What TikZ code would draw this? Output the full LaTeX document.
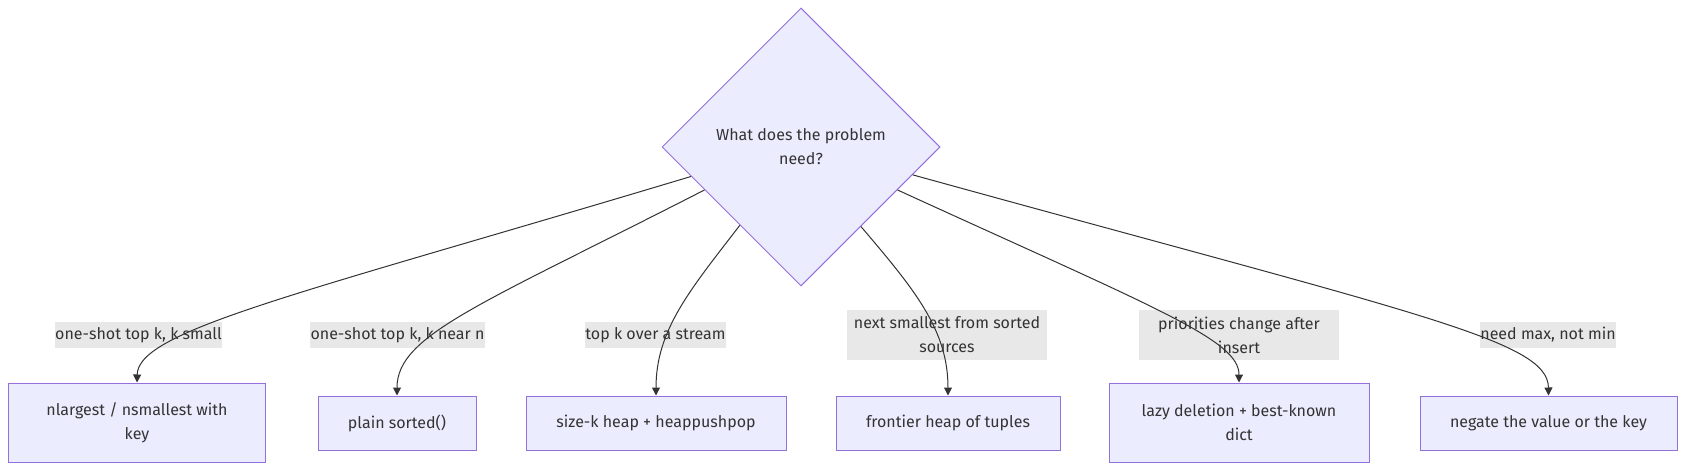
\documentclass[tikz,border=0pt]{standalone}
\usepackage{fontspec}
\setmainfont{Fira Sans}
\usetikzlibrary{shapes.geometric,arrows.meta}
\definecolor{nfill}{HTML}{ECECFF}
\definecolor{nline}{HTML}{9370DB}
\definecolor{lfill}{HTML}{E8E8E8}
\definecolor{tcol}{HTML}{333333}
\begin{document}
\begin{tikzpicture}[x=1pt,y=-1pt,
  every node/.style={font=\fontsize{16}{24}\selectfont, text=tcol},
  decision/.style={diamond, aspect=1, draw=nline, fill=nfill, line width=1pt, minimum width=278pt, minimum height=278pt, inner sep=0pt, align=center},
  box/.style={rectangle, draw=nline, fill=nfill, line width=1pt, align=center, inner sep=0pt},
  elabel/.style={fill=lfill, align=center, inner sep=0pt, minimum height=25pt},
  conn/.style={draw=tcol, line width=1pt, -{Triangle[length=8pt,width=8pt]}}
]
\useasboundingbox[fill=white] (0,0) rectangle (1684,470);

\node[decision] (d) at (801,147) {What does the problem\\need?};

\node[box, minimum width=257pt, minimum height=79pt] (b1) at (137,422.5) {nlargest / nsmallest with\\key};
\node[box, minimum width=158pt, minimum height=54pt] (b2) at (397,423) {plain sorted()};
\node[box, minimum width=260pt, minimum height=54pt] (b3) at (656,423) {size-k heap + heappushpop};
\node[box, minimum width=224pt, minimum height=54pt] (b4) at (948,423) {frontier heap of tuples};
\node[box, minimum width=260pt, minimum height=79pt] (b5) at (1239,422.5) {lazy deletion + best-known\\dict};
\node[box, minimum width=257pt, minimum height=54pt] (b6) at (1548.5,423) {negate the value or the key};

\node[elabel, minimum width=167pt] (l1) at (138.5,335) {one-shot top k, k small};
\node[elabel, minimum width=175pt] (l2) at (397.5,335) {one-shot top k, k near n};
\node[elabel, minimum width=141pt] (l3) at (655.5,335) {top k over a stream};
\node[elabel, minimum width=200pt, minimum height=50pt] (l4) at (947,335) {next smallest from sorted\\sources};
\node[elabel, minimum width=200pt, minimum height=50pt] (l5) at (1239,335) {priorities change after\\insert};
\node[elabel, minimum width=136pt] (l6) at (1548,335) {need max, not min};

\draw[conn] (d.195.5) .. controls (300,294) and (138,330) .. (b1.north);
\draw[conn] (d.204.8) .. controls (480,305) and (397,335) .. (b2.north);
\draw[conn] (d.232.3) .. controls (690,290) and (656,330) .. (b3.north);
\draw[conn] (d.307.7) .. controls (915,290) and (948,330) .. (b4.north);
\draw[conn] (d.336) .. controls (1160,310) and (1239,340) .. (b5.north);
\draw[conn] (d.346) .. controls (1420,315) and (1548,340) .. (b6.north);
\end{tikzpicture}
\end{document}
